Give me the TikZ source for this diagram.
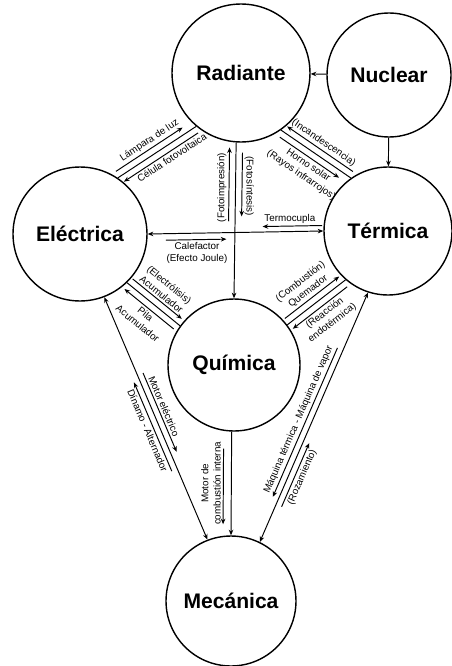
\documentclass[tikz,border=0pt]{standalone}
\usepackage{fontspec}
\setmainfont{Liberation Sans}
\usetikzlibrary{arrows.meta, calc}

\begin{document}
\begin{tikzpicture}[
    x=0.02cm, y=-0.02cm,
    every node/.style={font=\fontsize{5.6}{7}\selectfont, align=center, inner sep=1.2pt},
    energy/.style={circle, draw, line width=0.8pt, inner sep=0pt,
                font=\fontsize{12}{14}\selectfont\bfseries},
    link/.style={line width=0.55pt},
    arr/.style={link, -{Stealth[length=3.2pt, width=2.6pt]}},
    biarr/.style={link, {Stealth[length=3.2pt, width=2.6pt]}-{Stealth[length=3.2pt, width=2.6pt]}}
]
\useasboundingbox (0,0) rectangle (452,666);

% formas de energia
\node[energy, minimum size=2.76cm] (rad) at (241,73) {Radiante};
\node[energy, minimum size=2.48cm] (nuc) at (389,75) {Nuclear};
\node[energy, minimum size=2.56cm] (ter) at (388,231) {Térmica};
\node[energy, minimum size=2.68cm] (ele) at (80,234) {Eléctrica};
\node[energy, minimum size=2.64cm] (qui) at (234,365) {Química};
\node[energy, minimum size=2.6cm] (mec) at (231,601) {Mecánica};

% nuclear
\draw[arr] (nuc) -- (rad);
\draw[arr] (nuc) -- (ter);

% radiante - electrica
\draw[link] (ele.56) -- (rad.230);
\draw[arr, shorten <=0.04cm, shorten >=0.24cm] ($(ele.56)!0.13cm!90:(rad.230)$) -- ($(rad.230)!0.13cm!-90:(ele.56)$)
    node[midway, sloped, above] {Lámpara de luz};
\draw[arr, shorten <=0.04cm, shorten >=0.06cm] ($(rad.230)!0.13cm!90:(ele.56)$) -- ($(ele.56)!0.13cm!-90:(rad.230)$)
    node[pos=0.4, sloped, below] {Célula fotovoltaica};

% radiante - termica
\draw[link] (rad.305) -- (ter.125);
\draw[arr, shorten <=0.04cm, shorten >=0.06cm] ($(ter.125)!0.13cm!-90:(rad.305)$) -- ($(rad.305)!0.13cm!90:(ter.125)$)
    node[midway, sloped, above] {(Incandescencia)};
\draw[arr, shorten <=0.06cm, shorten >=0.2cm] ($(rad.305)!0.13cm!-90:(ter.125)$) -- ($(ter.125)!0.13cm!90:(rad.305)$)
    node[midway, sloped, below] {Horno solar\\(Rayos infrarrojos)};

% radiante - quimica
\draw[arr] (rad.266) -- (qui.north);
\draw[arr, shorten <=0.2cm, shorten >=1.64cm] ($(rad.266)!0.13cm!90:(qui.north)$) -- ($(qui.north)!0.13cm!-90:(rad.266)$)
    node[pos=0.28, rotate=-90, anchor=south] {(Fotosíntesis)};
\draw[arr, shorten <=1.54cm, shorten >=0.1cm] ($(qui.north)!0.13cm!90:(rad.266)$) -- ($(rad.266)!0.13cm!-90:(qui.north)$)
    node[pos=0.71, rotate=90, anchor=south] {(Fotoimpresión)};

% electrica - termica
\draw[biarr] (ele.east) -- (ter.west);
\draw[arr, shorten <=0.02cm, shorten >=2.3cm] ($(ter.west)!0.11cm!-90:(ele.east)$) -- ($(ele.east)!0.11cm!90:(ter.west)$)
    node[pos=0.19, above] {Termocupla};
\draw[arr, shorten <=0.36cm, shorten >=1.94cm] ($(ele.east)!0.13cm!-90:(ter.west)$) -- ($(ter.west)!0.13cm!90:(ele.east)$)
    node[pos=0.28, below] {Calefactor\\(Efecto Joule)};

% electrica - quimica
\draw[link] (ele.314) -- (qui.144);
\draw[arr, shorten <=0.04cm, shorten >=0.06cm] ($(ele.314)!0.13cm!90:(qui.144)$) -- ($(qui.144)!0.13cm!-90:(ele.314)$)
    node[midway, sloped, above] {(Electrólisis)\\Acumulador};
\draw[arr, shorten <=0.06cm, shorten >=0.04cm] ($(qui.144)!0.13cm!90:(ele.314)$) -- ($(ele.314)!0.13cm!-90:(qui.144)$)
    node[midway, sloped, below] {Pila\\Acumulador};

% termica - quimica
\draw[link] (qui.37) -- (ter.229);
\draw[arr, shorten <=0.04cm, shorten >=0.06cm] ($(qui.37)!0.13cm!90:(ter.229)$) -- ($(ter.229)!0.13cm!-90:(qui.37)$)
    node[midway, sloped, above] {(Combustión)\\Quemador};
\draw[arr, shorten <=0.06cm, shorten >=0.04cm] ($(ter.229)!0.13cm!90:(qui.37)$) -- ($(qui.37)!0.13cm!-90:(ter.229)$)
    node[midway, sloped, below] {(Reacción\\endotérmica)};

% electrica - mecanica
\draw[biarr] (ele.291) -- (mec.111);
\draw[arr, shorten <=1.7cm, shorten >=1.86cm] ($(ele.291)!0.12cm!90:(mec.111)$) -- ($(mec.111)!0.12cm!-90:(ele.291)$)
    node[pos=0.47, sloped, above] {Motor eléctrico};
\draw[arr, shorten <=1.54cm, shorten >=1.8cm] ($(mec.111)!0.12cm!90:(ele.291)$) -- ($(ele.291)!0.12cm!-90:(mec.111)$)
    node[pos=0.47, sloped, below] {Dínamo - Alternador};

% quimica - mecanica
\draw[arr] (qui.268) -- (mec.north);
\draw[arr, shorten <=0.34cm, shorten >=0.22cm] ($(qui.268)!0.16cm!-90:(mec.north)$) -- ($(mec.north)!0.16cm!90:(qui.268)$)
    node[midway, rotate=90, anchor=south] {Motor de\\combustión interna};

% termica - mecanica
\draw[biarr] (mec.64) -- (ter.252);
\draw[arr, shorten <=1.26cm, shorten >=0.93cm] ($(ter.252)!0.12cm!-90:(mec.64)$) -- ($(mec.64)!0.12cm!90:(ter.252)$)
    node[pos=0.53, sloped, above] {Máquina térmica - Máquina de vapor};
\draw[arr, shorten <=0.82cm, shorten >=3.23cm] ($(mec.64)!0.12cm!-90:(ter.252)$) -- ($(ter.252)!0.12cm!90:(mec.64)$)
    node[pos=0.28, sloped, below] {(Rozamiento)};
\end{tikzpicture}
\end{document}
